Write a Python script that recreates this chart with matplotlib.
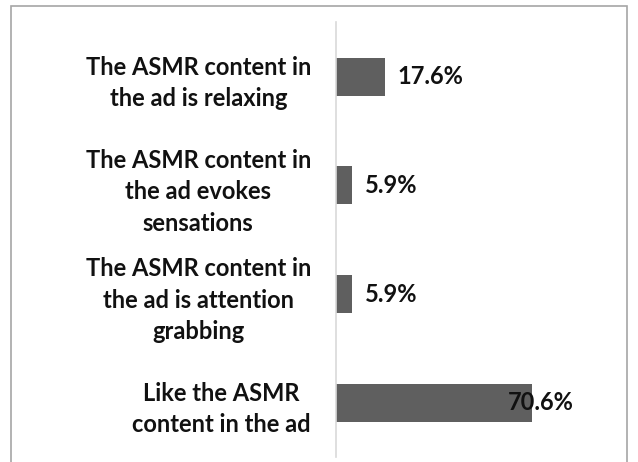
import matplotlib
matplotlib.use("Agg")
import matplotlib.pyplot as plt
from matplotlib.patches import Rectangle

# data (top to bottom)
categories = [
    "The ASMR content in\nthe ad is relaxing",
    "The ASMR content in\nthe ad evokes\nsensations",
    "The ASMR content in\nthe ad is attention\ngrabbing",
    "Like the ASMR\ncontent in the ad",
]
values = [17.6, 5.9, 5.9, 70.6]
value_labels = ["17.6%", "5.9%", "5.9%", "70.6%"]

bar_color = "#5f5f5f"
text_color = "#111111"
font = ["Lato", "DejaVu Sans"]
fs = 17

fig = plt.figure(figsize=(6.38, 4.62), dpi=100)
ax = fig.add_axes([0.5266, 0.0108, 0.4357, 0.9405])

ypos = list(range(len(values)))
ax.barh(ypos, values, height=0.35, color=bar_color)
ax.set_xlim(0, 100)
ax.set_ylim(len(values) - 0.5, -0.5)

# value labels; the big one sits over the end of its bar like in the original
for y, v, lab in zip(ypos, values, value_labels):
    x = v + 4.6 if v < 50 else v - 8.9
    ax.text(x, y, lab, va="center", ha="left", fontsize=fs, fontweight="bold",
            color=text_color, family=font)

ax.set_yticks(ypos)
ax.set_yticklabels(categories, fontsize=fs, fontweight="bold", color=text_color,
                   family=font, linespacing=1.45)
for t in ax.get_yticklabels():
    t.set_multialignment("center")
ax.tick_params(axis="y", length=0, pad=18)
ax.set_xticks([])

for s in ["top", "right", "bottom"]:
    ax.spines[s].set_visible(False)
ax.spines["left"].set_color("#d9d9d9")
ax.spines["left"].set_linewidth(1.2)

# outer chart border
fig.add_artist(Rectangle((0.017, -0.05), 0.9655, 1.037, transform=fig.transFigure,
                         fill=False, edgecolor="#a6a6a6", linewidth=1.2))

fig.savefig("out.png", dpi=100)
